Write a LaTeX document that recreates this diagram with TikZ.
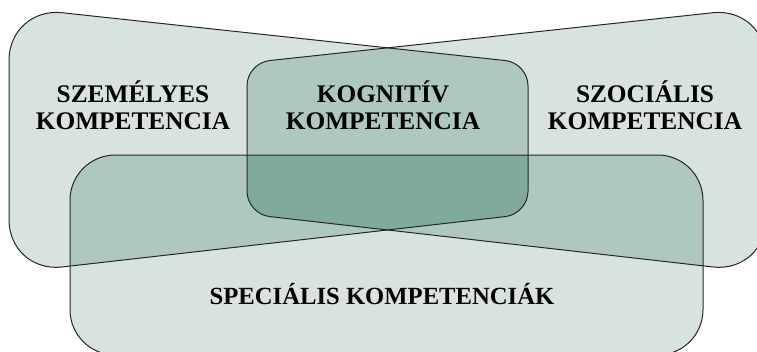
\documentclass[tikz,border=0pt]{standalone}
\usepackage{fontspec}
\setmainfont{Liberation Serif}
\usepackage{tikz}

\definecolor{egyszeres}{RGB}{217,227,222}
\definecolor{ketszeres}{RGB}{174,200,189}
\definecolor{haromszoros}{RGB}{128,170,157}

\newcommand{\szemelyesPath}{(9,140) [rounded corners=40pt] -- (9,7) -- (268.5,35) [rounded corners=17pt] -- (528,63) -- (528,214) -- (268.5,243.5) [rounded corners=40pt] -- (9,273) -- cycle}
\newcommand{\szocialisPath}{(766,140) [rounded corners=40pt] -- (766,7) -- (506.5,35) [rounded corners=17pt] -- (247,63) -- (247,214) -- (506.5,243.5) [rounded corners=40pt] -- (766,273) -- cycle}
\newcommand{\specialisPath}{(386,155) [rounded corners=34pt] -- (703,155) -- (703,355) -- (70,355) -- (70,155) -- cycle}

\begin{document}
\begin{tikzpicture}[x=0.75pt,y=-0.75pt,
    felirat/.style={font=\fontsize{19}{20.25}\selectfont\bfseries, align=center, anchor=base, inner sep=0pt},
    korvonal/.style={draw=black!85, line width=0.75pt}]
  \useasboundingbox (0,0) rectangle (757,351);
  \clip (0,0) rectangle (757,351);

  \fill[egyszeres] \szemelyesPath;
  \fill[egyszeres] \szocialisPath;
  \fill[egyszeres] \specialisPath;
  \begin{scope}
    \clip \szocialisPath;
    \fill[ketszeres] \specialisPath;
  \end{scope}
  \begin{scope}
    \clip \szemelyesPath;
    \fill[ketszeres] \szocialisPath;
    \fill[ketszeres] \specialisPath;
    \clip \szocialisPath;
    \fill[haromszoros] \specialisPath;
  \end{scope}
  \path[korvonal] \szemelyesPath;
  \path[korvonal] \szocialisPath;
  \path[korvonal] \specialisPath;

  \node[felirat] (szemelyes) at (133,129) {SZEMÉLYES\\KOMPETENCIA};
  \node[felirat] (kognitiv) at (383,129) {KOGNITÍV\\KOMPETENCIA};
  \node[felirat] (szocialis) at (645,129) {SZOCIÁLIS\\KOMPETENCIA};
  \node[felirat, font=\fontsize{18.5}{20}\selectfont\bfseries] (specialis) at (382,304) {SPECIÁLIS KOMPETENCIÁK};
\end{tikzpicture}
\end{document}
